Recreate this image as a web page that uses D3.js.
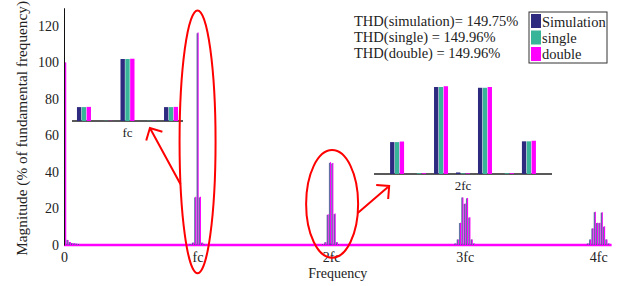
<!DOCTYPE html>
<html>
<head>
<meta charset="utf-8">
<script src="https://cdn.jsdelivr.net/npm/d3@7"></script>
<style>
  body { margin: 0; background: #fff; }
  text { font-family: "Liberation Serif", "Times New Roman", serif; fill: #222; }
</style>
</head>
<body>
<svg id="chart" width="619" height="286"></svg>
<script>
// series
const seriesNames = ["Simulation", "single", "double"];
const seriesColors = ["#2e2a7f", "#38b598", "#ff00ff"];
const thdLines = ["THD(simulation)= 149.75%", "THD(single) = 149.96%", "THD(double) = 149.96%"];

// frequency modulation ratio fc / f1
const mf = 115;

// low order harmonics (multiples of f1)
const lowOrders = [1, 3, 5, 7, 9, 11, 13];
const lowSim = [100, 2.8, 1.6, 1.1, 0.9, 0.7, 0.6];
const lowSingle = [100, 2.8, 1.6, 1.1, 0.9, 0.7, 0.6];
const lowDouble = [100, 2.8, 1.6, 1.1, 0.9, 0.7, 0.6];

// sidebands around fc
const ordersFc = [-6, -4, -2, -1, 0, 1, 2, 4, 6];
const simFc = [0.6, 1.3, 26, 0, 116, 0, 26, 1.3, 0.6];
const singleFc = [0.6, 1.3, 26, 0.4, 116, 0.4, 26, 1.3, 0.6];
const doubleFc = [0.6, 1.3, 26.4, 0.4, 116.5, 0.4, 26.4, 1.3, 0.6];

// sidebands around 2fc
const orders2fc = [-7, -5, -3, -2, -1, 0, 1, 2, 3, 5, 7];
const sim2fc = [0.5, 1.5, 16.5, 0, 45, 0.8, 44.6, 0, 16.9, 1.5, 0.5];
const single2fc = [0.5, 1.5, 16.5, 0.4, 45, 0.3, 44.6, 0.4, 16.9, 1.5, 0.5];
const double2fc = [0.5, 1.5, 16.8, 0.4, 45.4, 0.3, 45, 0.4, 17.2, 1.5, 0.5];

// sidebands around 3fc
const orders3fc = [-8, -6, -4, -2, 0, 2, 4, 6, 8];
const sim3fc = [0.8, 3, 12, 26, 22.5, 25.5, 15, 3, 0.8];
const single3fc = [0.8, 3, 12, 26, 22.5, 25.5, 15, 3, 0.8];
const double3fc = [0.8, 3, 12.2, 26, 22.8, 25.8, 15.2, 3, 0.8];

// sidebands around 4fc
const orders4fc = [-9, -7, -5, -3, -1, 1, 3, 5, 7, 9];
const sim4fc = [0.8, 3, 9, 18, 12, 12, 17.7, 10, 3, 0.8];
const single4fc = [0.8, 3, 9, 18, 12, 12, 17.7, 10, 3, 0.8];
const double4fc = [0.8, 3, 9.2, 18.2, 12.2, 12.2, 18, 10.2, 3, 0.8];

const xTickValues = [0, 1, 2, 3, 4];
const xTickLabels = ["0", "fc", "2fc", "3fc", "4fc"];
const yTickValues = [0, 20, 40, 60, 80, 100, 120];

const groups = [
  {k: 1, orders: ordersFc, vals: [simFc, singleFc, doubleFc]},
  {k: 2, orders: orders2fc, vals: [sim2fc, single2fc, double2fc]},
  {k: 3, orders: orders3fc, vals: [sim3fc, single3fc, double3fc]},
  {k: 4, orders: orders4fc, vals: [sim4fc, single4fc, double4fc]}
];
const lowVals = [lowSim, lowSingle, lowDouble];

// flatten into points per series
const points = seriesNames.map((name, si) => {
  const pts = lowOrders.map((o, i) => ({f: o / mf, v: lowVals[si][i]}));
  groups.forEach(g => {
    g.orders.forEach((o, i) => pts.push({f: g.k + o / mf, v: g.vals[si][i]}));
  });
  return pts;
});

const serif = "Liberation Serif, Times New Roman, serif";
const svg = d3.select("#chart");
const x = d3.scaleLinear().domain([0, 4.1]).range([64, 611.6]);
const y = d3.scaleLinear().domain([0, 130]).range([245, 7.75]);

// noise floor of spectrum
svg.append("line")
  .attr("x1", x(0)).attr("x2", x(4.1))
  .attr("y1", y(0)).attr("y2", y(0))
  .attr("stroke", seriesColors[2]).attr("stroke-width", 2.5);

// spectrum bars: single, double, then simulation on top half transparent
const drawOrder = [1, 2, 0];
const offsets = [-0.6, 0, 0.5];
drawOrder.forEach(si => {
  svg.append("g").selectAll("line").data(points[si]).join("line")
    .attr("x1", d => x(d.f) + offsets[si]).attr("x2", d => x(d.f) + offsets[si])
    .attr("y1", y(0)).attr("y2", d => y(d.v))
    .attr("stroke", seriesColors[si])
    .attr("stroke-width", si === 0 ? 1 : 1.2)
    .attr("stroke-opacity", si === 0 ? 0.55 : 1);
});

// y axis
const yAxis = svg.append("g")
  .attr("transform", `translate(${x(0)},0)`)
  .attr("font-family", serif).attr("font-size", 14)
  .call(d3.axisLeft(y).tickValues(yTickValues).tickSize(0).tickPadding(5).tickSizeOuter(0));
yAxis.attr("font-family", serif).attr("font-size", 14);
yAxis.select(".domain").attr("stroke", "#111");

// x axis labels
const xAxis = svg.append("g")
  .attr("transform", `translate(0,${y(0)})`)
  .call(d3.axisBottom(x).tickValues(xTickValues).tickFormat((d, i) => xTickLabels[i]).tickSize(0).tickPadding(7));
xAxis.attr("font-family", serif).attr("font-size", 14);
xAxis.select(".domain").remove();

svg.append("text")
  .attr("x", (x(0) + x(4.1)) / 2).attr("y", 278)
  .attr("text-anchor", "middle").style("font-size", "14px")
  .text("Frequency");

svg.append("text")
  .attr("transform", `translate(27,${(y(0) + y(130)) / 2 + 2}) rotate(-90)`)
  .attr("text-anchor", "middle").style("font-size", "15.3px")
  .text("Magnitude (% of fundamental frequency)");

// zoomed insets
function drawInset(g, orderMin, orderMax, xr, yBase, yTop, vMax, pad, label, labelY) {
  const ix = d3.scaleLinear().domain([orderMin - pad, orderMax + pad]).range(xr);
  const iy = d3.scaleLinear().domain([0, vMax]).range([yBase, yTop]);
  const band = d3.scaleBand().domain(seriesNames).range([-7, 7]).paddingInner(0.1);
  const ins = svg.append("g");
  ins.append("line")
    .attr("x1", xr[0]).attr("x2", xr[1]).attr("y1", iy(0)).attr("y2", iy(0))
    .attr("stroke", "#222").attr("stroke-width", 1.3);
  seriesNames.forEach((name, si) => {
    const data = g.orders.map((o, i) => ({o, v: g.vals[si][i]}))
      .filter(d => d.o >= orderMin && d.o <= orderMax);
    ins.append("g").selectAll("rect").data(data).join("rect")
      .attr("x", d => ix(d.o) + band(name))
      .attr("width", band.bandwidth())
      .attr("y", d => iy(d.v))
      .attr("height", d => iy(0) - iy(d.v))
      .attr("fill", seriesColors[si]);
  });
  ins.append("text")
    .attr("x", ix(0)).attr("y", labelY)
    .attr("text-anchor", "middle").style("font-size", "13px")
    .text(label);
  return {ix, iy};
}
const in1 = drawInset(groups[0], -2, 2, [72, 183], 121, 59, 116, 0.55, "fc", 137);
const in2 = drawInset(groups[1], -3, 3, [374, 552], 174, 87, 45, 1.05, "2fc", 190);

// annotations: ellipses and arrows
const red = "#ff0000";
const e1 = {cx: x(1), cy: (y(128.5) + y(-15.5)) / 2, rx: 18, ry: (y(-15.5) - y(128.5)) / 2};
const e2 = {cx: x(2) + 1, cy: (y(52) + y(-7)) / 2, rx: 26, ry: (y(-7) - y(52)) / 2};
[e1, e2].forEach(e => {
  svg.append("ellipse")
    .attr("cx", e.cx).attr("cy", e.cy).attr("rx", e.rx).attr("ry", e.ry)
    .attr("fill", "none").attr("stroke", red).attr("stroke-width", 2);
});

function arrow(from, to) {
  const ang = Math.atan2(from[1] - to[1], from[0] - to[0]);
  const len = 13, spread = Math.PI / 4;
  const a1 = [to[0] + len * Math.cos(ang + spread), to[1] + len * Math.sin(ang + spread)];
  const a2 = [to[0] + len * Math.cos(ang - spread), to[1] + len * Math.sin(ang - spread)];
  svg.append("path")
    .attr("d", `M${from}L${to}M${a1}L${to}L${a2}`)
    .attr("fill", "none").attr("stroke", red).attr("stroke-width", 2);
}
const s1 = 0.323, s2 = 0.167;
arrow([e1.cx - e1.rx * Math.sqrt(1 - s1 * s1), e1.cy + e1.ry * s1], [in1.ix(1.03), in1.iy(0) + 7]);
arrow([e2.cx + e2.rx * Math.sqrt(1 - s2 * s2), e2.cy + e2.ry * s2], [in2.ix(-3.36), in2.iy(0) + 12]);

// THD text
svg.append("g").selectAll("text").data(thdLines).join("text")
  .attr("x", 354).attr("y", (d, i) => 26 + i * 16.2)
  .style("font-size", "14.5px")
  .text(d => d);

// legend
const lg = svg.append("g").attr("transform", "translate(529,12)");
lg.append("rect").attr("width", 78).attr("height", 51)
  .attr("fill", "#fff").attr("stroke", "#333").attr("stroke-width", 1);
seriesNames.forEach((name, i) => {
  lg.append("rect").attr("x", 2).attr("y", 2 + i * 16.5).attr("width", 10).attr("height", 14)
    .attr("fill", seriesColors[i]);
  lg.append("text").attr("x", 13).attr("y", 14.5 + i * 16.2)
    .style("font-size", "14.5px").text(name);
});
</script>
</body>
</html>
